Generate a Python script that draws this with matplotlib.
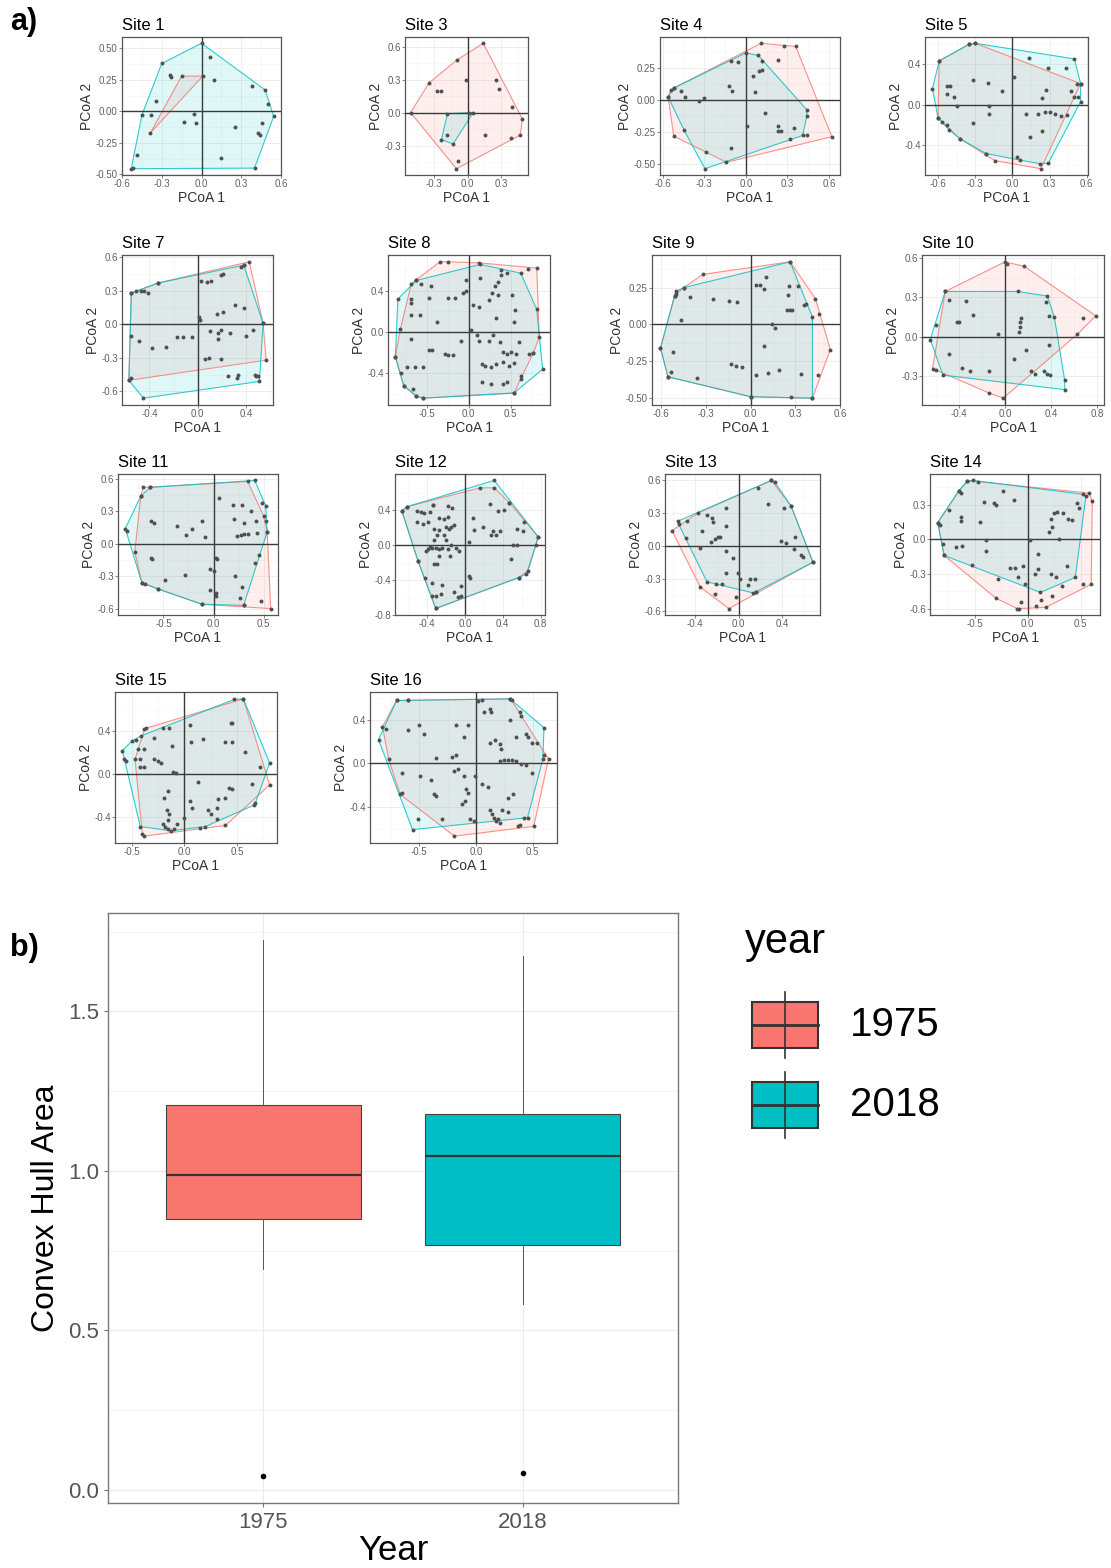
import numpy as np
import matplotlib
matplotlib.use("Agg")
import matplotlib.pyplot as plt
from matplotlib.patches import Rectangle
from matplotlib.ticker import MultipleLocator

plt.rcParams['font.family'] = ['Liberation Sans', 'DejaVu Sans']

RED = "#F8766D"
TEAL = "#00BFC4"
W, H = 1111, 1568

# ---- panel a): PCoA scores per site, (PCoA1, PCoA2) ----
site1_1975 = [(-0.385, -0.17), (-0.15, 0.28), (0.01, 0.28)]
site1_2018 = [(0.0, 0.54), (-0.30, 0.38), (0.065, 0.43), (-0.24, 0.29), (-0.23, 0.27), (0.095, 0.25),
              (-0.34, 0.08), (0.38, 0.20), (0.48, 0.17), (0.505, 0.06), (0.545, -0.04), (-0.45, -0.03),
              (-0.38, -0.03), (-0.135, -0.085), (-0.06, -0.02), (-0.045, -0.095), (0.255, -0.125),
              (0.46, -0.09), (0.425, -0.17), (0.44, -0.19), (0.15, -0.37), (-0.49, -0.35),
              (-0.53, -0.455), (-0.52, -0.45), (0.40, -0.45)]

site3_1975 = [(-0.51, 0.0), (-0.345, 0.27), (-0.27, 0.195), (-0.24, 0.195), (-0.093, 0.48), (-0.015, 0.30),
              (0.14, 0.63), (0.25, 0.30), (0.28, 0.21), (0.40, 0.055), (0.49, -0.06), (0.47, -0.205),
              (0.39, -0.23), (0.155, -0.205), (-0.09, -0.44), (-0.10, -0.51)]
site3_2018 = [(-0.18, -0.01), (0.05, 0.0), (0.015, 0.0), (-0.13, -0.285), (-0.235, -0.245), (-0.18, -0.205)]

site4_1975 = [(0.11, 0.44), (0.275, 0.415), (0.36, 0.415), (0.62, -0.29), (-0.52, -0.285), (-0.56, 0.02),
              (-0.52, 0.09), (-0.14, -0.49), (-0.285, -0.41), (0.235, 0.31), (0.135, -0.105), (0.44, -0.28),
              (0.35, -0.225), (0.32, -0.31), (-0.125, 0.11), (0.05, 0.185)]
site4_2018 = [(0.0, 0.365), (0.09, 0.345), (0.12, 0.305), (0.115, 0.235), (0.096, 0.22), (-0.105, 0.30),
              (-0.06, 0.29), (-0.10, 0.065), (0.067, 0.056), (-0.54, 0.075), (-0.47, 0.065), (-0.44, 0.02),
              (-0.56, 0.02), (-0.34, -0.01), (-0.30, 0.01), (0.01, -0.205), (0.44, -0.08), (0.44, -0.13),
              (0.235, -0.21), (0.235, -0.245), (0.25, -0.245), (0.41, -0.28), (-0.445, -0.24),
              (-0.11, -0.38), (-0.295, -0.54), (-0.52, 0.09)]

site5_1975 = [(-0.35, 0.60), (-0.30, 0.61), (-0.59, 0.435), (-0.60, -0.13), (-0.53, -0.20), (-0.42, -0.34),
              (-0.21, -0.485), (-0.14, -0.555), (0.23, -0.635), (0.55, 0.21), (0.52, 0.21), (0.47, 0.14),
              (-0.53, 0.19), (-0.20, 0.22), (0.016, 0.275), (-0.19, -0.015), (0.11, -0.095), (0.26, -0.07),
              (0.30, -0.07), (0.34, -0.09), (0.145, -0.32), (0.27, 0.15)]
site5_2018 = [(-0.30, 0.61), (-0.35, 0.60), (-0.59, 0.435), (-0.645, 0.16), (-0.60, -0.13), (-0.57, -0.17),
              (-0.51, -0.25), (-0.42, -0.34), (-0.21, -0.485), (0.04, -0.52), (0.065, -0.55), (0.22, -0.585),
              (0.29, -0.58), (0.55, 0.03), (0.53, 0.08), (0.50, 0.455), (0.13, 0.46), (0.29, 0.365),
              (0.435, 0.365), (-0.50, 0.19), (-0.53, 0.105), (-0.47, 0.08), (-0.45, -0.01), (-0.32, 0.25),
              (-0.08, 0.14), (-0.19, -0.095), (-0.32, -0.18), (0.24, -0.265), (0.21, -0.095), (0.39, -0.11),
              (0.44, -0.10), (0.24, 0.065), (0.50, 0.08), (0.55, 0.21)]

site7_1975 = [(0.425, 0.56), (0.38, 0.53), (-0.55, 0.28), (-0.57, -0.50), (0.565, -0.32), (-0.33, 0.37),
              (0.21, 0.45), (0.03, 0.385), (-0.47, 0.295), (-0.17, -0.11), (0.01, 0.065), (0.305, 0.175),
              (0.165, -0.08), (0.46, -0.05), (0.09, -0.30), (0.54, 0.01), (-0.49, -0.145), (0.27, -0.08)]
site7_2018 = [(0.36, 0.51), (0.38, 0.53), (-0.33, 0.37), (-0.55, 0.28), (-0.51, 0.295), (-0.445, 0.295),
              (-0.41, 0.28), (-0.55, -0.10), (-0.38, -0.215), (-0.26, -0.20), (-0.125, -0.11), (-0.05, -0.11),
              (0.02, 0.04), (0.075, 0.375), (0.11, 0.39), (0.19, 0.44), (0.10, -0.06), (0.155, 0.095),
              (0.21, 0.11), (0.38, 0.145), (0.17, -0.13), (0.19, -0.05), (0.395, -0.10), (0.06, -0.31),
              (0.19, -0.305), (0.25, -0.465), (0.32, -0.48), (0.33, -0.45), (0.47, -0.45), (0.485, -0.465),
              (0.50, -0.465), (0.51, -0.51), (0.54, 0.01), (-0.57, -0.50), (-0.555, -0.475), (-0.45, -0.66)]

site8_1975 = [(-0.34, 0.68), (-0.25, 0.68), (0.12, 0.67), (0.71, 0.61), (0.81, 0.62), (0.84, -0.05),
              (0.77, -0.20), (0.62, -0.43), (0.54, -0.59), (-0.54, -0.64), (-0.62, -0.62), (-0.77, -0.52),
              (-0.87, -0.24), (-0.81, 0.03), (-0.62, 0.50),
              (-0.68, 0.47), (-0.68, 0.32), (-0.69, 0.17), (-0.47, 0.33), (-0.24, 0.33), (-0.07, 0.38),
              (-0.03, 0.50), (0.12, 0.24), (0.24, 0.31), (0.31, 0.45), (0.39, 0.55), (0.39, 0.60),
              (0.52, 0.36), (0.54, 0.10), (0.33, 0.14), (0.12, -0.09), (0.29, -0.03), (0.41, -0.19),
              (0.50, -0.19), (0.60, -0.10), (0.77, -0.20), (0.20, -0.33), (0.33, -0.31), (0.48, -0.33),
              (0.27, -0.50), (0.41, -0.50), (-0.68, -0.07), (-0.64, -0.34), (-0.47, -0.17), (-0.28, -0.21),
              (-0.18, -0.22), (-0.37, 0.10), (-0.66, -0.55)]
site8_2018 = [(-0.84, 0.32), (-0.62, 0.50), (0.14, 0.655), (0.62, 0.57), (0.81, 0.22), (0.88, -0.36),
              (0.62, -0.45), (0.54, -0.59), (-0.54, -0.64), (-0.62, -0.62), (-0.77, -0.52), (-0.87, -0.24),
              (-0.57, 0.47), (-0.68, 0.28), (-0.58, 0.17), (-0.45, 0.45), (-0.16, 0.33), (-0.03, 0.40),
              (0.05, 0.26), (0.14, 0.52), (0.28, 0.38), (0.35, 0.48), (0.46, 0.57), (0.55, 0.21),
              (0.35, 0.36), (0.10, -0.03), (0.24, -0.09), (0.37, -0.10), (0.46, -0.21), (0.56, -0.21),
              (0.72, -0.21), (0.16, -0.31), (0.27, -0.34), (0.41, -0.29), (0.54, -0.30), (0.16, -0.48),
              (0.46, -0.48), (-0.73, -0.34), (-0.54, -0.34), (-0.43, -0.17), (-0.24, -0.22), (-0.09, -0.09),
              (0.03, 0.02), (-0.80, -0.40)]

site9_1975 = [(0.265, 0.425), (0.435, 0.175), (0.46, 0.07), (0.535, -0.17), (0.45, -0.34), (0.415, -0.50),
              (0.0, -0.49), (-0.555, -0.355), (-0.605, -0.16), (-0.51, 0.195), (-0.32, 0.34), (-0.45, 0.25),
              (-0.41, 0.185), (-0.145, 0.16), (0.065, 0.27), (0.09, 0.24), (0.32, 0.26), (0.245, 0.10),
              (0.28, 0.095), (0.145, 0.0), (0.09, -0.145), (0.12, -0.33), (0.34, -0.335), (-0.135, -0.27),
              (-0.055, -0.29), (-0.52, -0.185)]
site9_2018 = [(0.265, 0.425), (0.415, 0.05), (0.415, -0.50), (0.27, -0.49), (0.0, -0.49), (-0.555, -0.355),
              (-0.535, -0.325), (-0.605, -0.16), (-0.51, 0.195), (-0.50, 0.225), (-0.50, 0.205), (-0.45, 0.25),
              (-0.25, 0.175), (-0.09, 0.155), (-0.47, 0.03), (0.036, 0.27), (0.10, 0.32), (0.255, 0.26),
              (0.25, 0.20), (0.265, 0.10), (0.37, 0.14), (0.355, 0.13), (0.165, -0.025), (0.036, -0.345),
              (0.19, -0.31), (-0.10, -0.28), (-0.36, -0.365)]

site10_1975 = [(0.0, 0.57), (0.015, 0.555), (0.17, 0.535), (0.79, 0.16), (0.68, 0.145), (0.63, 0.02),
               (-0.015, -0.465), (-0.14, -0.425), (-0.63, -0.24), (-0.60, -0.25), (-0.52, 0.345),
               (-0.06, 0.02), (0.14, 0.145), (0.12, 0.04), (0.18, -0.10), (0.385, -0.06), (-0.28, 0.17),
               (-0.37, -0.235)]
site10_2018 = [(-0.65, -0.02), (-0.60, 0.09), (-0.52, 0.345), (0.37, 0.31), (0.355, 0.265), (0.385, 0.155),
               (0.43, 0.15), (0.52, -0.33), (0.52, -0.40), (-0.54, -0.29), (-0.49, 0.28), (-0.34, 0.27),
               (-0.415, 0.115), (-0.40, 0.11), (-0.49, -0.13), (-0.30, -0.26), (-0.14, -0.26), (0.11, 0.345),
               (0.13, 0.11), (0.13, 0.075), (0.08, -0.17), (0.23, -0.26), (0.26, -0.28), (0.34, -0.26),
               (0.37, -0.28), (0.39, -0.29)]

site11_1975 = [(-0.70, 0.52), (-0.63, 0.52), (0.34, 0.575), (0.50, 0.255), (0.535, 0.11), (0.57, -0.60),
               (0.475, -0.53), (0.30, -0.57), (-0.115, -0.56), (-0.55, -0.42), (-0.715, -0.36), (-0.785, -0.075),
               (-0.725, 0.44), (0.285, 0.36), (0.05, 0.42), (0.20, 0.225), (0.27, 0.08), (0.34, 0.085),
               (-0.36, 0.165), (-0.215, 0.14), (-0.09, 0.06), (-0.625, -0.13), (0.02, -0.13), (-0.035, -0.23),
               (0.215, -0.30), (-0.285, -0.285), (0.02, -0.485)]
site11_2018 = [(-0.63, 0.52), (0.41, 0.585), (0.48, 0.38), (0.52, 0.35), (0.52, 0.21), (0.535, 0.11),
               (0.45, -0.10), (0.41, -0.175), (0.285, -0.40), (0.26, -0.50), (0.30, -0.57), (-0.115, -0.56),
               (-0.55, -0.42), (-0.68, -0.375), (-0.715, -0.36), (-0.88, 0.14), (-0.86, 0.12), (-0.725, 0.44),
               (0.375, 0.30), (0.42, 0.21), (0.19, 0.36), (0.30, 0.195), (0.23, 0.07), (0.30, 0.085),
               (0.43, 0.10), (-0.625, 0.21), (-0.59, 0.195), (-0.27, 0.077), (-0.115, 0.21), (-0.61, -0.145),
               (0.0, -0.25), (0.035, -0.145), (-0.035, -0.43), (0.02, -0.455), (-0.48, -0.34)]

site12_1975 = [(-0.67, 0.395), (-0.61, 0.445), (-0.335, 0.465), (0.16, 0.66), (0.31, 0.66), (0.47, 0.49),
               (0.775, 0.097), (0.67, -0.29), (0.57, -0.37), (-0.31, -0.725), (-0.50, -0.175),
               (-0.51, 0.39), (-0.43, 0.37), (-0.51, 0.27), (-0.39, 0.27), (-0.22, 0.30), (-0.33, 0.19),
               (-0.20, 0.21), (-0.15, 0.21), (-0.22, 0.12), (-0.33, 0.06), (-0.39, -0.04), (-0.35, -0.03),
               (-0.28, -0.04), (-0.18, -0.04), (-0.10, -0.03), (-0.16, -0.12), (-0.28, -0.12), (-0.30, -0.22),
               (-0.42, -0.37), (-0.24, -0.46), (-0.35, -0.58), (-0.26, -0.56), (-0.04, -0.58), (0.05, -0.37),
               (0.10, 0.17), (0.08, 0.31), (0.35, 0.39), (0.37, 0.16), (0.33, 0.12), (0.61, 0.16),
               (0.51, 0.0), (0.49, -0.16), (0.04, 0.04), (-0.18, 0.45)]
site12_2018 = [(-0.67, 0.395), (-0.61, 0.445), (-0.335, 0.465), (0.31, 0.745), (0.47, 0.49), (0.775, 0.097),
               (0.75, 0.0), (0.65, -0.33), (0.57, -0.37), (-0.31, -0.725), (-0.50, -0.175),
               (-0.47, 0.38), (-0.37, 0.38), (-0.45, 0.25), (-0.28, 0.31), (-0.18, 0.33), (-0.28, 0.17),
               (-0.17, 0.19), (-0.12, 0.23), (-0.30, 0.12), (-0.37, -0.02), (-0.41, -0.06), (-0.31, -0.03),
               (-0.24, -0.03), (-0.15, 0.0), (-0.06, -0.06), (-0.20, 0.06), (-0.33, -0.21), (-0.35, -0.43),
               (-0.12, -0.54), (-0.31, -0.58), (-0.07, -0.59), (0.04, -0.35), (-0.04, -0.47), (0.19, 0.21),
               (0.26, 0.47), (0.41, 0.41), (0.30, 0.16), (0.55, 0.19), (0.62, 0.27), (0.55, 0.0),
               (0.28, 0.12), (-0.14, 0.43)]

site13_1975 = [(-0.61, 0.14), (-0.375, 0.30), (0.30, 0.60), (0.48, 0.365), (0.68, -0.15), (0.16, -0.42),
               (-0.02, -0.47), (-0.09, -0.575), (-0.35, -0.38), (-0.215, -0.445), (0.18, 0.53), (0.27, 0.38),
               (0.52, 0.085), (0.43, 0.025), (0.57, -0.085), (-0.29, 0.28), (-0.235, 0.215), (-0.34, 0.14),
               (-0.35, -0.015), (-0.22, 0.065), (-0.17, 0.077), (-0.12, -0.05), (-0.12, -0.245), (0.01, -0.30),
               (0.15, -0.30), (-0.205, -0.345)]
site13_2018 = [(-0.56, 0.225), (-0.55, 0.20), (0.30, 0.60), (0.33, 0.585), (0.48, 0.365), (0.68, -0.15),
               (0.16, -0.42), (0.13, -0.43), (-0.29, -0.33), (-0.485, 0.07), (-0.475, 0.225), (-0.24, 0.26),
               (-0.12, 0.35), (-0.255, 0.04), (-0.19, 0.08), (-0.115, 0.18), (-0.055, -0.115), (-0.007, -0.25),
               (0.10, -0.30), (0.085, -0.36), (-0.15, -0.345), (0.415, 0.35), (0.39, 0.045), (0.505, -0.03),
               (0.59, -0.10)]

site14_1975 = [(-0.57, 0.505), (-0.47, 0.50), (0.58, 0.40), (0.61, 0.33), (0.60, -0.39), (0.52, -0.39),
               (0.17, -0.59), (0.083, -0.58), (-0.083, -0.60), (-0.10, -0.60), (-0.30, -0.51), (-0.79, -0.14),
               (-0.85, 0.145), (-0.65, 0.42), (-0.41, 0.32), (-0.23, 0.42), (-0.63, 0.19), (-0.39, -0.01),
               (-0.28, -0.34), (-0.12, -0.245), (-0.06, -0.54), (0.13, -0.525), (0.23, -0.49), (0.32, -0.405),
               (0.22, 0.18), (0.28, 0.24), (0.38, 0.18), (0.48, 0.27), (0.30, 0.0), (0.10, -0.13), (0.27, -0.33)]
site14_2018 = [(-0.57, 0.505), (-0.52, 0.51), (0.52, 0.39), (0.55, 0.375), (0.45, -0.33), (0.12, -0.46),
               (-0.03, -0.39), (-0.53, -0.225), (-0.79, -0.14), (-0.85, 0.145), (-0.83, 0.125), (-0.65, 0.42),
               (-0.63, 0.40), (-0.74, 0.25), (-0.68, -0.07), (-0.62, -0.06), (-0.80, -0.04), (-0.63, 0.16),
               (-0.45, 0.15), (-0.32, 0.315), (-0.30, 0.30), (-0.13, 0.34), (-0.39, -0.105), (-0.17, -0.25),
               (-0.09, -0.33), (-0.04, -0.235), (0.067, -0.30), (0.10, -0.26), (0.22, -0.30), (0.37, -0.23),
               (0.25, 0.23), (0.20, 0.065), (0.23, 0.11), (0.33, 0.23), (0.42, 0.17), (0.47, 0.315),
               (0.017, -0.01)]

site15_1975 = [(0.56, 0.705), (0.81, -0.10), (0.39, -0.48), (-0.38, -0.58), (-0.40, -0.56), (-0.47, 0.14),
               (-0.365, 0.43), (-0.38, 0.42), (-0.20, 0.43), (-0.29, 0.335), (-0.38, 0.235), (-0.38, 0.07),
               (-0.255, 0.12), (-0.117, 0.26), (-0.08, 0.013), (0.175, 0.33), (0.456, 0.30), (0.456, 0.48),
               (0.72, 0.066), (0.45, -0.135), (-0.19, -0.22), (-0.146, -0.37), (0.073, -0.32), (0.255, -0.37),
               (0.39, -0.22), (0.31, -0.42), (-0.16, -0.51), (-0.10, -0.51), (0.146, -0.50)]
site15_2018 = [(0.475, 0.70), (0.56, 0.705), (0.81, 0.105), (0.675, -0.27), (0.66, -0.29), (0.20, -0.49),
               (-0.13, -0.53), (-0.42, -0.49), (-0.57, 0.145), (-0.56, 0.12), (-0.59, 0.22), (-0.50, 0.31),
               (-0.46, 0.32), (-0.41, 0.36), (-0.146, 0.43), (-0.44, 0.235), (-0.42, 0.145), (-0.42, 0.07),
               (-0.29, 0.14), (-0.22, 0.105), (-0.11, 0.02), (0.055, 0.46), (0.062, 0.30), (0.39, 0.30),
               (0.44, 0.48), (0.58, 0.21), (0.128, -0.076), (0.42, -0.13), (0.64, -0.09), (-0.157, -0.16),
               (-0.17, -0.34), (0.055, -0.25), (0.22, -0.34), (0.31, -0.32), (0.32, -0.23), (0.0, -0.41),
               (-0.18, -0.49), (-0.07, -0.47), (-0.16, -0.43), (-0.20, -0.47)]

site16_1975 = [(-0.70, 0.58), (-0.60, 0.58), (0.30, 0.595), (0.315, 0.58), (0.54, 0.19), (0.64, 0.04),
               (0.60, 0.075), (0.51, -0.58), (0.37, -0.58), (0.385, -0.57), (-0.19, -0.67), (-0.65, -0.27),
               (-0.67, -0.285), (-0.77, 0.04), (-0.825, 0.34), (-0.79, 0.32), (-0.60, 0.305), (-0.46, 0.27),
               (-0.65, -0.09), (-0.40, -0.15), (-0.35, -0.30), (-0.175, 0.075), (-0.07, 0.35), (-0.09, -0.235),
               (-0.10, -0.35), (-0.19, -0.07), (-0.01, -0.12), (0.105, -0.22), (-0.02, -0.53), (0.14, -0.465),
               (0.16, -0.50), (0.19, -0.515), (0.175, -0.53), (0.21, -0.55), (0.28, -0.45), (0.33, -0.285),
               (0.17, 0.22), (0.22, 0.135), (0.135, 0.47), (0.30, 0.40), (0.44, 0.27), (0.455, 0.24),
               (0.245, 0.03), (0.315, 0.03), (0.40, -0.005), (0.49, -0.09)]
site16_2018 = [(-0.70, 0.58), (-0.60, 0.58), (0.02, 0.575), (0.05, 0.58), (0.30, 0.595), (0.60, 0.33),
               (0.49, 0.19), (0.59, 0.04), (0.455, -0.50), (0.42, -0.50), (-0.56, -0.61), (-0.51, -0.515),
               (-0.30, -0.515), (-0.86, 0.22), (-0.50, 0.35), (-0.35, 0.05), (-0.49, -0.12), (-0.37, -0.285),
               (-0.21, 0.06), (-0.105, 0.24), (-0.105, -0.12), (-0.07, -0.27), (-0.12, -0.37), (-0.16, -0.055),
               (0.05, -0.19), (-0.05, -0.515), (0.12, -0.43), (0.23, -0.43), (0.28, -0.32), (0.12, 0.19),
               (0.21, 0.175), (0.12, 0.50), (0.07, 0.47), (0.35, 0.24), (0.385, 0.47), (0.40, 0.44),
               (0.21, 0.025), (0.28, 0.03), (0.35, 0.025), (0.44, -0.015), (-0.18, 0.35)]

# ---- panel b): convex hull area per year ----
years = ["1975", "2018"]
area_q1 = [0.848, 0.766]
area_median = [0.986, 1.047]
area_q3 = [1.208, 1.177]
area_whisk_low = [0.692, 0.583]
area_whisk_high = [1.725, 1.674]
area_outliers = [[0.042], [0.053]]

sites = [
    ("Site 1", site1_1975, site1_2018, [-0.6, -0.3, 0, 0.3, 0.6], [-0.5, -0.25, 0, 0.25, 0.5], 1, 2),
    ("Site 3", site3_1975, site3_2018, [-0.3, 0, 0.3], [-0.3, 0, 0.3, 0.6], 1, 1),
    ("Site 4", site4_1975, site4_2018, [-0.6, -0.3, 0, 0.3, 0.6], [-0.5, -0.25, 0, 0.25], 1, 2),
    ("Site 5", site5_1975, site5_2018, [-0.6, -0.3, 0, 0.3, 0.6], [-0.4, 0, 0.4], 1, 1),
    ("Site 7", site7_1975, site7_2018, [-0.4, 0, 0.4], [-0.6, -0.3, 0, 0.3, 0.6], 1, 1),
    ("Site 8", site8_1975, site8_2018, [-0.5, 0, 0.5], [-0.4, 0, 0.4], 1, 1),
    ("Site 9", site9_1975, site9_2018, [-0.6, -0.3, 0, 0.3, 0.6], [-0.5, -0.25, 0, 0.25], 1, 2),
    ("Site 10", site10_1975, site10_2018, [-0.4, 0, 0.4, 0.8], [-0.3, 0, 0.3, 0.6], 1, 1),
    ("Site 11", site11_1975, site11_2018, [-0.5, 0, 0.5], [-0.6, -0.3, 0, 0.3, 0.6], 1, 1),
    ("Site 12", site12_1975, site12_2018, [-0.4, 0, 0.4, 0.8], [-0.8, -0.4, 0, 0.4], 1, 1),
    ("Site 13", site13_1975, site13_2018, [-0.4, 0, 0.4], [-0.6, -0.3, 0, 0.3, 0.6], 1, 1),
    ("Site 14", site14_1975, site14_2018, [-0.5, 0, 0.5], [-0.6, -0.3, 0, 0.3], 1, 1),
    ("Site 15", site15_1975, site15_2018, [-0.5, 0, 0.5], [-0.4, 0, 0.4], 1, 1),
    ("Site 16", site16_1975, site16_2018, [-0.5, 0, 0.5], [-0.4, 0, 0.4], 1, 1),
]

# panel boxes in pixels: left, top, right, bottom
boxes = [
    (122, 37, 281, 175), (405, 37, 528, 175), (660, 37, 840, 175), (925, 37, 1088, 175),
    (122, 255, 273, 405), (388, 255, 550, 405), (652, 255, 840, 405), (922, 255, 1104, 405),
    (118, 474, 278, 615), (395, 474, 545, 615), (665, 474, 820, 615), (930, 474, 1100, 615),
    (115, 692, 277, 843), (370, 692, 557, 843),
]


def px_axes(fig, l, t, r, b):
    return fig.add_axes([l / W, 1 - b / H, (r - l) / W, (b - t) / H])


def convex_hull(pts):
    pts = sorted(set(pts))
    def cross(o, a, b):
        return (a[0] - o[0]) * (b[1] - o[1]) - (a[1] - o[1]) * (b[0] - o[0])
    lower, upper = [], []
    for p in pts:
        while len(lower) >= 2 and cross(lower[-2], lower[-1], p) <= 0:
            lower.pop()
        lower.append(p)
    for p in reversed(pts):
        while len(upper) >= 2 and cross(upper[-2], upper[-1], p) <= 0:
            upper.pop()
        upper.append(p)
    return np.array(lower[:-1] + upper[:-1])


fig = plt.figure(figsize=(W / 100, H / 100), dpi=100)

for (title, p75, p18, xt, yt, xd, yd), box in zip(sites, boxes):
    ax = px_axes(fig, *box)
    for pts, col in ((p75, RED), (p18, TEAL)):
        hl = convex_hull(pts)
        ax.fill(hl[:, 0], hl[:, 1], facecolor=col, alpha=0.12, edgecolor="none", zorder=1)
        ax.fill(hl[:, 0], hl[:, 1], facecolor="none", edgecolor=col, lw=0.8, alpha=0.8, zorder=2)
    allp = np.array(p75 + p18)
    ax.scatter(allp[:, 0], allp[:, 1], s=8, color="#505050", lw=0, zorder=4)
    ax.axhline(0, color="#3a3a3a", lw=1.0, zorder=3)
    ax.axvline(0, color="#3a3a3a", lw=1.0, zorder=3)
    ax.margins(0.05)
    ax.set_xticks(xt)
    ax.set_xticklabels([f"{v:.{xd}f}" for v in xt])
    ax.set_yticks(yt)
    ax.set_yticklabels([f"{v:.{yd}f}" for v in yt])
    ax.xaxis.set_minor_locator(MultipleLocator((xt[1] - xt[0]) / 2))
    ax.yaxis.set_minor_locator(MultipleLocator((yt[1] - yt[0]) / 2))
    ax.grid(which="major", color="#EBEBEB", lw=0.6)
    ax.grid(which="minor", color="#F5F5F5", lw=0.4)
    ax.set_axisbelow(True)
    for s in ax.spines.values():
        s.set_color("#555555")
        s.set_linewidth(0.9)
    ax.tick_params(which="major", labelsize=7, labelcolor="#606060", color="#555555",
                   length=2, width=0.5, pad=1)
    ax.tick_params(which="minor", length=0)
    ax.set_xlabel("PCoA 1", fontsize=10, color="#333333", labelpad=1)
    ax.set_ylabel("PCoA 2", fontsize=10, color="#333333", labelpad=1)
    ax.set_title(title, loc="left", fontsize=12, pad=5)

fig.text(10 / W, 1 - 22 / H, "a)", fontsize=22, fontweight="bold", va="center")
fig.text(10 / W, 1 - 948 / H, "b)", fontsize=22, fontweight="bold", va="center")

# ---- box plot ----
axb = px_axes(fig, 108, 913, 678, 1503)
stats = []
for i in range(len(years)):
    stats.append(dict(label=years[i], q1=area_q1[i], med=area_median[i], q3=area_q3[i],
                      whislo=area_whisk_low[i], whishi=area_whisk_high[i], fliers=area_outliers[i]))
bp = axb.bxp(stats, positions=[1, 2], widths=0.75, patch_artist=True, showcaps=False,
             boxprops=dict(edgecolor="#444444", linewidth=0.8),
             medianprops=dict(color="#333333", linewidth=1.6),
             whiskerprops=dict(color="#555555", linewidth=0.7),
             flierprops=dict(marker="o", markersize=3, markerfacecolor="black",
                             markeredgecolor="black"))
for patch, col in zip(bp["boxes"], (RED, TEAL)):
    patch.set_facecolor(col)
axb.set_xlim(0.4, 2.6)
axb.set_ylim(-0.042, 1.809)
axb.set_yticks([0, 0.5, 1.0, 1.5])
axb.set_yticklabels(["0.0", "0.5", "1.0", "1.5"])
axb.yaxis.set_minor_locator(MultipleLocator(0.25))
axb.grid(which="major", color="#EBEBEB", lw=0.8)
axb.grid(which="minor", axis="y", color="#F3F3F3", lw=0.6)
axb.set_axisbelow(True)
for s in axb.spines.values():
    s.set_color("#777777")
    s.set_linewidth(1.0)
axb.tick_params(which="major", labelsize=16, labelcolor="#555555", color="#777777", length=3)
axb.tick_params(which="minor", length=0)
axb.set_xlabel("Year", fontsize=25, labelpad=1)
axb.set_ylabel("Convex Hull Area", fontsize=23, labelpad=5)

# legend
axl = px_axes(fig, 735, 900, 1000, 1150)
axl.set_xlim(0, 265)
axl.set_ylim(250, 0)
axl.axis("off")
axl.text(10, 42, "year", fontsize=30, va="center", ha="left")
for (yc, lab, col) in ((125, years[0], RED), (205, years[1], TEAL)):
    axl.plot([50, 50], [yc - 33, yc + 33], color="#333333", lw=1.2)
    axl.add_patch(Rectangle((17, yc - 23), 66, 46, facecolor=col, edgecolor="#333333", lw=1.5))
    axl.plot([17, 83], [yc, yc], color="#333333", lw=2)
    axl.text(115, yc, lab, fontsize=29, va="center", ha="left")

fig.savefig("out.png", dpi=100)
